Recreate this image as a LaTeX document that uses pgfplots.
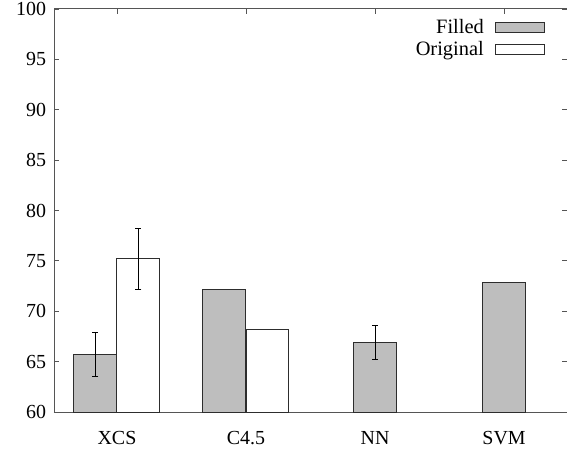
\documentclass[border=0pt]{standalone}
\usepackage{fontspec}
\setmainfont{Liberation Serif}
\usepackage{pgfplots}
\pgfplotsset{compat=1.18}
\definecolor{barfill}{RGB}{190,190,190}
\definecolor{axgray}{RGB}{85,85,85}
\definecolor{baredge}{RGB}{45,45,45}
\begin{document}
\begin{tikzpicture}
\pgfplotsset{
  mylegend/.style={legend image code/.code={\path[draw=none,fill=none] (0bp,-5bp) rectangle (10bp,5bp);\draw[##1] (10bp,-5bp) rectangle (59bp,5bp);}},
}
\begin{axis}[
  name=ax,
  width=513bp, height=403bp, scale only axis,
  xmin=-0.488, xmax=3.488, ymin=60, ymax=100,
  xtick={0,1,2,3}, xticklabels={XCS,C4.5,NN,SVM},
  ytick={60,65,...,100},
  tick align=inside, major tick length=5bp,
  axis line style={axgray, line width=1pt},
  tick style={axgray, line width=0.8pt},
  font=\fontsize{20}{24}\selectfont,
  ticklabel style={font=\fontsize{20}{24}\selectfont},
  /pgf/number format/assume math mode=true,
  yticklabel style={xshift=-4.5bp},
  xticklabel style={yshift=-16bp},
  legend plot pos=right,
  legend cell align=right,
  legend style={draw=none, fill=none, at={(rel axis cs:1,1)}, anchor=north east,
    xshift=-19bp, yshift=-7bp, row sep=3bp,
    font=\fontsize{20.5}{24}\selectfont, nodes={inner sep=1.5bp}},
]
\addplot[ybar, bar shift=0pt, bar width=0.333, fill=barfill, draw=baredge, line width=1bp, mylegend]
  coordinates {(-0.1667,65.7) (0.8333,72.2) (2,66.9) (3,72.9)};
\addlegendentry{Filled}
\addplot[ybar, bar shift=0pt, bar width=0.333, fill=white, draw=baredge, line width=1bp, mylegend]
  coordinates {(0.1667,75.2) (1.1667,68.2)};
\addlegendentry{Original}
\addplot[draw=none, mark=none, forget plot,
  error bars/.cd, y dir=both, y explicit,
  error bar style={draw=black, line width=0.7bp},
  error mark options={draw=black, mark size=3bp, line width=0.7bp, rotate=90}]
  coordinates {(-0.1667,65.7) +- (0,2.2) (0.1667,75.2) +- (0,3.0) (2,66.9) +- (0,1.7)};
\end{axis}
\pgfresetboundingbox
\path ([shift={(-54bp,-38bp)}]ax.south west) rectangle ([shift={(0bp,9bp)}]ax.north east);
\end{tikzpicture}
\end{document}
